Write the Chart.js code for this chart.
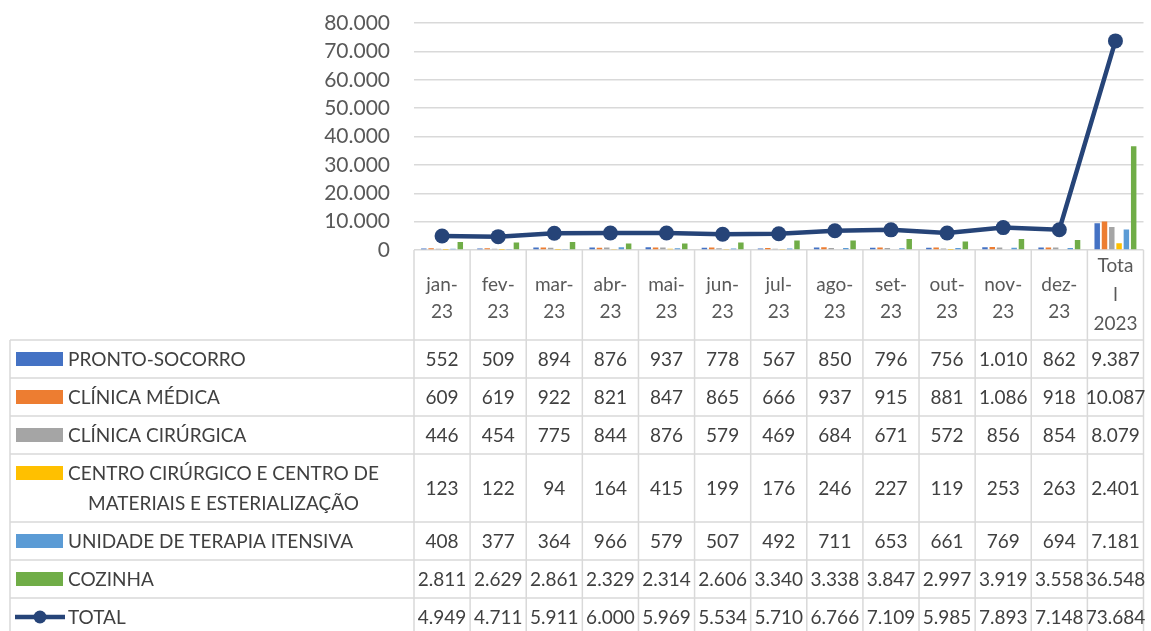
<!DOCTYPE html>
<html>
<head>
<meta charset="utf-8">
<script src="https://cdn.jsdelivr.net/npm/chart.js@4"></script>
<style>
  html, body { margin: 0; padding: 0; background: #fff; }
  canvas { display: block; }
</style>
</head>
<body>
<canvas id="chart" width="1151" height="631"></canvas>
<script>
// categories and header label lines
const categories = ['jan-23', 'fev-23', 'mar-23', 'abr-23', 'mai-23', 'jun-23', 'jul-23', 'ago-23', 'set-23', 'out-23', 'nov-23', 'dez-23', 'Total 2023'];
const categoryLines = [
  ['jan-', '23'], ['fev-', '23'], ['mar-', '23'], ['abr-', '23'], ['mai-', '23'], ['jun-', '23'],
  ['jul-', '23'], ['ago-', '23'], ['set-', '23'], ['out-', '23'], ['nov-', '23'], ['dez-', '23'],
  ['Tota', 'l', '2023']
];

const prontoSocorro = [552, 509, 894, 876, 937, 778, 567, 850, 796, 756, 1010, 862, 9387];
const clinicaMedica = [609, 619, 922, 821, 847, 865, 666, 937, 915, 881, 1086, 918, 10087];
const clinicaCirurgica = [446, 454, 775, 844, 876, 579, 469, 684, 671, 572, 856, 854, 8079];
const centroCirurgico = [123, 122, 94, 164, 415, 199, 176, 246, 227, 119, 253, 263, 2401];
const uti = [408, 377, 364, 966, 579, 507, 492, 711, 653, 661, 769, 694, 7181];
const cozinha = [2811, 2629, 2861, 2329, 2314, 2606, 3340, 3338, 3847, 2997, 3919, 3558, 36548];
const total = [4949, 4711, 5911, 6000, 5969, 5534, 5710, 6766, 7109, 5985, 7893, 7148, 73684];

const yTicks = [0, 10000, 20000, 30000, 40000, 50000, 60000, 70000, 80000];

const barSeries = [
  { label: 'PRONTO-SOCORRO', data: prontoSocorro, color: '#4472C4' },
  { label: 'CLÍNICA MÉDICA', data: clinicaMedica, color: '#ED7D31' },
  { label: 'CLÍNICA CIRÚRGICA', data: clinicaCirurgica, color: '#A5A5A5' },
  { label: ['CENTRO CIRÚRGICO E CENTRO DE', 'MATERIAIS E ESTERIALIZAÇÃO'], data: centroCirurgico, color: '#FFC000' },
  { label: 'UNIDADE DE TERAPIA ITENSIVA', data: uti, color: '#5B9BD5' },
  { label: 'COZINHA', data: cozinha, color: '#70AD47' }
];
const lineColor = '#264478';

function fmt(v) {
  return String(v).replace(/\B(?=(\d{3})+(?!\d))/g, '.');
}

const FONT = 'Lato, "Open Sans", sans-serif';
const GRID = '#D9D9D9';

// row edges of the data table (below the plot)
const rowEdges = [340, 378, 416, 454, 522, 560, 598, 636];
const tableLeft = 10;

const dataTable = {
  id: 'dataTable',
  afterDraw(chart) {
    const ctx = chart.ctx;
    const area = chart.chartArea;
    const xs = chart.scales.x;
    const n = categories.length;
    const cw = (area.right - area.left) / n;

    ctx.save();
    ctx.strokeStyle = GRID;
    ctx.lineWidth = 1.5;
    ctx.beginPath();
    for (let i = 0; i <= n; i++) {
      const px = area.left + i * cw;
      ctx.moveTo(px, area.bottom);
      ctx.lineTo(px, 631);
    }
    ctx.moveTo(tableLeft, rowEdges[0]);
    ctx.lineTo(tableLeft, 631);
    rowEdges.forEach(y => {
      ctx.moveTo(tableLeft, y);
      ctx.lineTo(area.right, y);
    });
    ctx.stroke();

    // header labels
    ctx.fillStyle = '#595959';
    ctx.font = '19px ' + FONT;
    ctx.textAlign = 'center';
    ctx.textBaseline = 'middle';
    const headMid = (area.bottom + rowEdges[0]) / 2;
    categoryLines.forEach((lines, i) => {
      const cx = xs.getPixelForValue(i);
      const lh = lines.length > 2 ? 29 : 27;
      const mid = lines.length > 2 ? headMid : headMid + 3;
      lines.forEach((t, k) => {
        ctx.fillText(t, cx, mid + (k - (lines.length - 1) / 2) * lh);
      });
    });

    // rows
    const rows = barSeries.map(s => ({ label: s.label, data: s.data, color: s.color, line: false }))
      .concat([{ label: 'TOTAL', data: total, color: lineColor, line: true }]);

    rows.forEach((r, ri) => {
      const cy = (rowEdges[ri] + rowEdges[ri + 1]) / 2;
      ctx.fillStyle = '#404040';
      ctx.font = '19px ' + FONT;
      ctx.textAlign = 'center';
      r.data.forEach((v, i) => {
        ctx.fillText(fmt(v), xs.getPixelForValue(i), cy + 1);
      });

      const lines = Array.isArray(r.label) ? r.label : [r.label];
      const firstY = cy - (lines.length - 1) * 15;
      // legend key
      if (r.line) {
        ctx.strokeStyle = r.color;
        ctx.lineWidth = 4.5;
        ctx.beginPath();
        ctx.moveTo(15, firstY);
        ctx.lineTo(65, firstY);
        ctx.stroke();
        ctx.fillStyle = r.color;
        ctx.beginPath();
        ctx.arc(40, firstY, 6.5, 0, Math.PI * 2);
        ctx.fill();
      } else {
        ctx.fillStyle = r.color;
        ctx.fillRect(16, firstY - 7, 47, 14);
      }
      ctx.fillStyle = '#404040';
      ctx.textAlign = 'center';
      const blockW = Math.max(...lines.map(t => ctx.measureText(t).width));
      lines.forEach((t, k) => {
        ctx.fillText(t, 68 + blockW / 2, firstY + k * 30 + 1);
      });
    });
    ctx.restore();
  }
};

const datasets = [{
  type: 'line',
  label: 'TOTAL',
  data: total,
  borderColor: lineColor,
  backgroundColor: lineColor,
  borderWidth: 4.5,
  pointRadius: 7.5,
  pointBackgroundColor: lineColor,
  pointBorderColor: lineColor,
  pointBorderWidth: 0,
  tension: 0,
  order: 0
}].concat(barSeries.map(s => ({
  type: 'bar',
  label: Array.isArray(s.label) ? s.label.join(' ') : s.label,
  data: s.data,
  backgroundColor: s.color,
  barPercentage: 0.75,
  categoryPercentage: 0.78,
  order: 1
})));

new Chart(document.getElementById('chart'), {
  data: { labels: categories, datasets: datasets },
  options: {
    responsive: false,
    animation: false,
    devicePixelRatio: 1,
    layout: { padding: { top: 23, right: 6, bottom: 381, left: 0 } },
    plugins: { legend: { display: false }, tooltip: { enabled: false } },
    scales: {
      x: { display: false },
      y: {
        min: 0,
        max: 80000,
        afterBuildTicks(scale) { scale.ticks = yTicks.map(v => ({ value: v })); },
        afterFit(scale) {
          scale.width = 414;
          scale.paddingTop = 0;
          scale.paddingBottom = 0;
        },
        border: { display: false },
        grid: { color: GRID, lineWidth: 1.5, drawTicks: false },
        ticks: {
          padding: 24,
          color: '#595959',
          font: { family: FONT, size: 21 },
          callback: v => fmt(v)
        }
      }
    }
  },
  plugins: [dataTable]
});
</script>
</body>
</html>
